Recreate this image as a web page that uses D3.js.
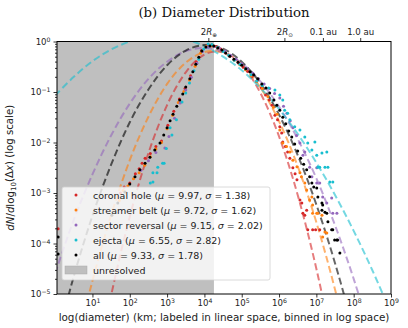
<!DOCTYPE html>
<html><head><meta charset="utf-8">
<script src="https://cdn.jsdelivr.net/npm/d3@7"></script>
<style>body{margin:0;background:#fff} svg{display:block}</style>
</head><body>
<svg id="c" width="408" height="328"></svg>
<script>
// ---------- DATA ----------
const categories = ["coronal hole", "streamer belt", "sector reversal", "ejecta", "all"];
const mus = ["9.97", "9.72", "9.15", "6.55", "9.33"];
const sigmas = ["1.38", "1.62", "2.02", "2.82", "1.78"];
const colors = ["#d62728", "#ff7f0e", "#9467bd", "#17becf", "#000000"];

// scatter points: log10(diameter km), log10(dN/dlog10 dx)
const chLogD = [0.08,1.75,1.85,2.00,2.15,2.25,2.33,2.41,2.55,2.70,2.85,3.02,3.18,3.33,3.48,3.63,3.78,3.92,4.08,4.20,4.32,4.44,4.56,4.68,4.80,4.92,5.04,5.16,5.28,5.40,5.52,5.64,5.74,5.81,5.89,5.96,6.02,6.07,6.10,6.17,6.23,6.29,6.37,6.43,6.48,6.56,6.61,6.64,6.69,6.74,6.77,6.90,6.98,7.09];
const chLogN = [-3.71,-3.00,-2.88,-2.80,-2.62,-2.52,-2.41,-2.31,-2.22,-2.08,-1.97,-1.66,-1.38,-1.14,-0.93,-0.68,-0.40,-0.18,-0.08,-0.07,-0.10,-0.15,-0.22,-0.29,-0.36,-0.43,-0.51,-0.59,-0.69,-0.79,-0.92,-1.06,-1.16,-1.26,-1.46,-1.55,-1.69,-1.81,-1.99,-2.08,-2.19,-2.31,-2.50,-2.62,-2.74,-3.14,-3.20,-3.40,-3.44,-3.34,-3.73,-3.73,-3.73,-3.73];

const sbLogD = [1.72,1.82,1.95,2.10,2.25,2.40,2.55,2.70,2.85,3.00,3.15,3.30,3.45,3.60,3.75,3.90,4.05,4.20,4.35,4.50,4.65,4.80,4.95,5.10,5.25,5.40,5.55,5.70,5.85,5.95,6.02,6.10,6.20,6.29,6.37,6.48,6.56,6.60,6.69,6.74,6.82,6.88,6.90,6.90,7.01,7.04,7.15,7.17,7.23,7.28];
const sbLogN = [-3.15,-2.95,-2.86,-2.72,-2.60,-2.45,-2.28,-2.13,-2.00,-1.73,-1.46,-1.21,-0.99,-0.76,-0.49,-0.23,-0.10,-0.09,-0.13,-0.19,-0.27,-0.37,-0.46,-0.56,-0.68,-0.79,-0.93,-1.09,-1.30,-1.44,-1.75,-2.01,-2.08,-2.19,-2.35,-2.48,-2.60,-2.68,-2.80,-2.94,-3.14,-3.08,-3.24,-3.40,-3.40,-3.40,-3.44,-3.87,-3.77,-3.79];

const srLogD = [2.30,2.50,2.70,2.94,3.05,3.20,3.35,3.50,3.65,3.80,3.95,4.10,4.25,4.40,4.55,4.70,4.85,5.00,5.15,5.30,5.45,5.60,5.75,5.88,6.02,6.12,6.21,6.30,6.37,6.47,6.56,6.64,6.69,6.82,6.88,7.01,7.01,7.09,7.17,7.28,7.41,7.44,7.55];
const srLogN = [-2.55,-2.36,-2.20,-2.11,-1.88,-1.52,-1.22,-0.96,-0.71,-0.43,-0.20,-0.11,-0.10,-0.13,-0.19,-0.27,-0.35,-0.44,-0.54,-0.63,-0.74,-0.84,-0.93,-1.03,-1.12,-1.28,-1.42,-1.57,-1.71,-1.86,-2.01,-2.25,-2.19,-2.49,-2.68,-2.50,-2.80,-2.80,-3.08,-3.20,-3.10,-3.40,-3.40];

const ejLogD = [2.55,2.62,2.62,2.73,2.75,2.88,2.92,2.98,3.08,3.13,3.25,3.40,3.50,3.60,3.72,3.85,3.98,4.10,4.20,4.35,4.50,4.65,4.80,4.95,5.10,5.25,5.40,5.55,5.72,5.89,6.02,6.10,6.15,6.23,6.29,6.42,6.56,6.69,6.77,6.88,6.96,7.01,7.04,7.09,7.15,7.23,7.28,7.31,7.36,7.44];
const ejLogN = [-2.80,-2.78,-2.60,-2.60,-2.49,-2.41,-2.41,-2.12,-1.71,-1.85,-1.55,-1.20,-1.02,-0.82,-0.58,-0.35,-0.15,-0.05,-0.06,-0.12,-0.20,-0.27,-0.37,-0.45,-0.54,-0.66,-0.78,-0.87,-0.92,-0.96,-1.06,-1.16,-1.36,-1.42,-1.55,-1.69,-1.75,-1.89,-2.01,-2.15,-1.99,-2.25,-2.49,-2.49,-2.21,-2.49,-2.19,-2.49,-2.78,-2.78];

const allLogD = [0.08,0.08,1.52,1.68,1.87,2.00,2.14,2.27,2.41,2.54,2.67,2.81,2.91,3.00,3.08,3.16,3.26,3.34,3.42,3.50,3.61,3.69,3.77,3.85,3.93,4.04,4.15,4.25,4.36,4.47,4.57,4.68,4.79,4.90,5.00,5.11,5.22,5.32,5.43,5.54,5.65,5.75,5.86,5.94,6.02,6.10,6.18,6.26,6.34,6.42,6.50,6.58,6.66,6.74,6.82,6.88,6.93,7.01,7.04,7.15,7.17,7.15,7.23,7.28,7.31,7.41,7.44,7.49,7.55,7.57,7.63];
const allLogN = [-3.87,-4.21,-3.44,-3.20,-2.98,-2.82,-2.68,-2.54,-2.41,-2.29,-2.15,-2.01,-1.85,-1.71,-1.57,-1.44,-1.28,-1.16,-1.04,-0.90,-0.74,-0.60,-0.45,-0.31,-0.19,-0.11,-0.09,-0.09,-0.13,-0.17,-0.23,-0.29,-0.35,-0.41,-0.47,-0.54,-0.60,-0.66,-0.74,-0.84,-0.92,-1.02,-1.16,-1.26,-1.36,-1.50,-1.63,-1.77,-1.89,-2.03,-2.17,-2.31,-2.43,-2.54,-2.68,-2.80,-2.88,-2.90,-3.08,-3.20,-3.24,-3.34,-3.38,-3.40,-3.57,-3.73,-3.73,-3.93,-3.93,-3.93,-4.19];

// dashed fit curves: log10(diameter) grid, log10 density
const fitLogD = [0,0.5,1,1.5,2,2.5,3,3.5,4,4.5,5,5.5,6,6.5,7,7.5,8,8.5,9];
const fitCH  = [-11.52,-9.06,-6.89,-5.03,-3.47,-2.21,-1.26,-0.61,-0.26,-0.21,-0.46,-1.02,-1.88,-3.04,-4.50,-6.27,-8.33,-10.70,-13.37];
const fitSB  = [-8.00,-6.26,-4.74,-3.44,-2.35,-1.49,-0.84,-0.42,-0.21,-0.22,-0.46,-0.91,-1.58,-2.47,-3.58,-4.91,-6.45,-8.22,-10.21];
const fitSR  = [-4.59,-3.53,-2.63,-1.86,-1.23,-0.74,-0.40,-0.19,-0.13,-0.21,-0.43,-0.79,-1.29,-1.93,-2.71,-3.64,-4.70,-5.91,-7.26];
const fitEJ  = [-1.07,-0.70,-0.39,-0.16,0.00,0.08,0.10,0.04,-0.09,-0.30,-0.57,-0.92,-1.34,-1.83,-2.40,-3.04,-3.75,-4.53,-5.38];
const fitALL = [-6.04,-4.65,-3.45,-2.44,-1.60,-0.95,-0.47,-0.18,-0.07,-0.14,-0.40,-0.83,-1.45,-2.25,-3.23,-4.39,-5.73,-7.26,-8.96];

const xTickExp = [1,2,3,4,5,6,7,8,9];
const yTickExp = [0,-1,-2,-3,-4,-5];
const topTickKm = [12742, 1391400, 14959787, 149597871];
const topTickLabels = [["2","R","⊕"],["2","R","⊙"],["0.1 au"],["1.0 au"]];
const unresolvedKm = 18000;

// ---------- CHART ----------
const svg = d3.select("#c");
const L = 57, R = 391, T = 41.5, B = 294;
const x = d3.scaleLog().domain([Math.pow(10, 0.05), 1e9]).range([L, R]);
const y = d3.scaleLog().domain([1e-5, 1]).range([B, T]);
const font = "'DejaVu Sans', sans-serif";
const tickFs = 8.6;

svg.append("rect").attr("width", 408).attr("height", 328).attr("fill", "#fff");
svg.append("clipPath").attr("id", "clip").append("rect")
  .attr("x", L).attr("y", T).attr("width", R - L).attr("height", B - T);

const plot = svg.append("g").attr("clip-path", "url(#clip)");
plot.append("rect").attr("x", L).attr("y", T)
  .attr("width", x(unresolvedKm) - L).attr("height", B - T).attr("fill", "#bfbfbf");

const fits = [fitCH, fitSB, fitSR, fitEJ, fitALL];
const line = d3.line()
  .x(d => x(Math.pow(10, d[0])))
  .y(d => y(Math.pow(10, d[1])))
  .curve(d3.curveCardinal.tension(0));
fits.forEach((f, i) => {
  plot.append("path")
    .attr("d", line(fitLogD.map((v, j) => [v, f[j]])))
    .attr("fill", "none").attr("stroke", colors[i])
    .attr("stroke-width", 2).attr("stroke-dasharray", "7,3.5")
    .attr("stroke-opacity", 0.6);
});

const pts = [[chLogD, chLogN], [sbLogD, sbLogN], [srLogD, srLogN], [ejLogD, ejLogN], [allLogD, allLogN]];
pts.forEach((p, i) => {
  plot.append("g").selectAll("circle")
    .data(p[0].map((v, j) => [v, p[1][j]]))
    .join("circle")
    .attr("cx", d => x(Math.pow(10, d[0])))
    .attr("cy", d => y(Math.pow(10, d[1])))
    .attr("r", 1.5).attr("fill", colors[i]);
});

// axes
function supLabel(sel, exps) {
  sel.selectAll(".tick text").each(function(d, i) {
    const t = d3.select(this).text(null);
    t.append("tspan").text("10");
    const e = exps[i];
    t.append("tspan").attr("dy", "-0.45em").attr("font-size", "0.72em")
      .text(e < 0 ? "\u2212" + (-e) : String(e));
  });
}
const gx = svg.append("g").attr("transform", `translate(0,${B})`)
  .call(d3.axisBottom(x).tickValues(xTickExp.map(e => Math.pow(10, e))).tickSize(3.5).tickPadding(2.5).tickFormat(() => "x"));
gx.select(".domain").remove();
gx.selectAll("text").attr("font-family", font).attr("font-size", tickFs).attr("fill", "#222");
supLabel(gx, xTickExp);

const gy = svg.append("g").attr("transform", `translate(${L},0)`)
  .call(d3.axisLeft(y).tickValues(yTickExp.map(e => Math.pow(10, e))).tickSize(3.5).tickPadding(3).tickFormat(() => "x"));
gy.select(".domain").remove();
gy.selectAll("text").attr("font-family", font).attr("font-size", tickFs).attr("fill", "#222");
supLabel(gy, yTickExp);

const minor = [];
for (let e = -5; e < 0; e++) for (let k = 2; k <= 9; k++) minor.push(k * Math.pow(10, e));
const gym = svg.append("g").attr("transform", `translate(${L},0)`)
  .call(d3.axisLeft(y).tickValues(minor).tickSize(2).tickFormat(() => ""));
gym.select(".domain").remove();

const gt = svg.append("g").attr("transform", `translate(0,${T})`)
  .call(d3.axisTop(x).tickValues(topTickKm).tickSize(3.5).tickPadding(3).tickFormat(() => "x"));
gt.select(".domain").remove();
gt.selectAll(".tick text").each(function(d, i) {
  const t = d3.select(this).text(null).attr("font-family", font).attr("font-size", tickFs).attr("fill", "#222");
  const lab = topTickLabels[i];
  if (lab.length === 1) { t.text(lab[0]); return; }
  t.append("tspan").text(lab[0]);
  t.append("tspan").attr("font-style", "italic").text(lab[1]);
  t.append("tspan").attr("dy", "0.3em").attr("font-size", "0.65em").text(lab[2]);
});
svg.selectAll(".tick line").attr("stroke", "#000").attr("stroke-width", 0.8);

svg.append("rect").attr("x", L).attr("y", T).attr("width", R - L).attr("height", B - T)
  .attr("fill", "none").attr("stroke", "#000").attr("stroke-width", 1);

// title and labels
svg.append("text").attr("x", (L + R) / 2).attr("y", 17).attr("text-anchor", "middle")
  .attr("font-family", "'DejaVu Serif', serif").attr("font-size", 13.3).attr("fill", "#111")
  .text("(b) Diameter Distribution");

svg.append("text").attr("x", (L + R) / 2).attr("y", 321).attr("text-anchor", "middle")
  .attr("font-family", font).attr("font-size", 10.4).attr("fill", "#222")
  .text("log(diameter) (km; labeled in linear space, binned in log space)");

const yl = svg.append("text").attr("transform", `translate(14,${(T + B) / 2}) rotate(-90)`)
  .attr("text-anchor", "middle").attr("font-family", font).attr("font-size", 10.2).attr("fill", "#222");
yl.append("tspan").attr("font-style", "italic").text("dN");
yl.append("tspan").text("/");
yl.append("tspan").attr("font-style", "italic").text("d");
yl.append("tspan").text("log");
yl.append("tspan").attr("dy", "0.3em").attr("font-size", "0.7em").text("10");
yl.append("tspan").attr("dy", "-0.3em").text("(Δ");
yl.append("tspan").attr("font-style", "italic").text("x");
yl.append("tspan").text(") (log scale)");

// legend
const lg = svg.append("g");
lg.append("rect").attr("x", 62).attr("y", 187).attr("width", 208).attr("height", 93)
  .attr("rx", 2).attr("fill", "#fff").attr("fill-opacity", 0.8)
  .attr("stroke", "#d0d0d0").attr("stroke-width", 0.8);
categories.forEach((c, i) => {
  const yy = 195 + i * 15;
  lg.append("circle").attr("cx", 76).attr("cy", yy).attr("r", 1.5).attr("fill", colors[i]);
  const t = lg.append("text").attr("x", 93).attr("y", yy + 3.5)
    .attr("font-family", font).attr("font-size", 9.5).attr("fill", "#222");
  t.append("tspan").text(c + " (");
  t.append("tspan").attr("font-style", "italic").text("μ");
  t.append("tspan").text(" = " + mus[i] + ", ");
  t.append("tspan").attr("font-style", "italic").text("σ");
  t.append("tspan").text(" = " + sigmas[i] + ")");
});
lg.append("rect").attr("x", 65).attr("y", 266).attr("width", 22).attr("height", 8)
  .attr("fill", "#bfbfbf").attr("stroke", "#aaa").attr("stroke-width", 0.5);
lg.append("text").attr("x", 93).attr("y", 273.5).attr("font-family", font)
  .attr("font-size", 9.5).attr("fill", "#222").text("unresolved");
</script>
</body></html>
